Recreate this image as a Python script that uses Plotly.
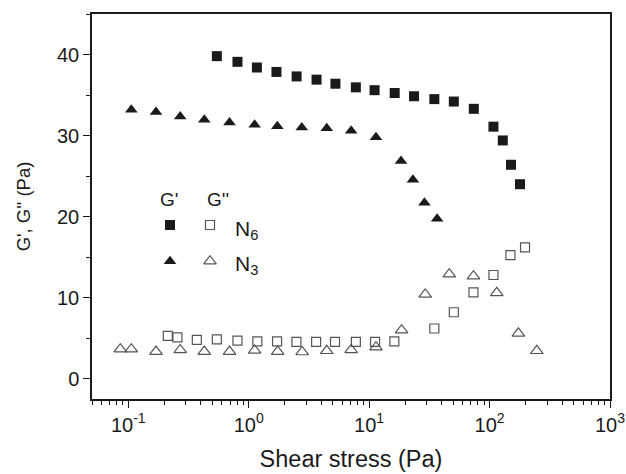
import plotly.graph_objects as go

# Storage (G') and loss (G'') moduli vs. applied shear stress, two samples
n6_gp_stress = [0.544, 0.807, 1.17, 1.70, 2.50, 3.66, 5.25, 7.76, 11.1, 16.3,
                23.6, 34.8, 50.5, 74.0, 107.7, 128.8, 150.7, 179.0]
n6_gp = [39.8, 39.1, 38.4, 37.85, 37.3, 36.9, 36.4, 35.95, 35.6, 35.25,
         34.85, 34.5, 34.2, 33.3, 31.1, 29.4, 26.4, 24.0]

n6_gpp_stress = [0.213, 0.256, 0.371, 0.544, 0.807, 1.18, 1.72, 2.49, 3.63, 5.21,
                 7.76, 11.2, 16.2, 34.8, 50.5, 73.5, 107.7, 149.0, 197.0]
n6_gpp = [5.3, 5.1, 4.8, 4.85, 4.7, 4.6, 4.6, 4.55, 4.55, 4.55,
          4.55, 4.55, 4.6, 6.2, 8.2, 10.65, 12.8, 15.25, 16.2]

n3_gp_stress = [0.106, 0.170, 0.270, 0.428, 0.693, 1.12, 1.73, 2.76, 4.45, 7.09,
                11.4, 18.4, 23.1, 28.8, 36.7]
n3_gp = [33.2, 32.9, 32.35, 31.95, 31.6, 31.35, 31.15, 31.0, 30.9, 30.6,
         29.8, 26.85, 24.55, 21.7, 19.75]

n3_gpp_stress = [0.0859, 0.106, 0.170, 0.270, 0.428, 0.693, 1.12, 1.74, 2.78, 4.45,
                 7.09, 11.4, 18.6, 29.2, 46.3, 73.5, 114.8, 173.4, 246.7]
n3_gpp = [3.65, 3.65, 3.35, 3.55, 3.35, 3.35, 3.5, 3.35, 3.3, 3.45,
          3.55, 3.9, 6.0, 10.4, 12.9, 12.65, 10.6, 5.6, 3.45]

x_tick_vals = [0.1, 1, 10, 100, 1000]
x_tick_text = ["10<sup>-1</sup>", "10<sup>0</sup>", "10<sup>1</sup>",
               "10<sup>2</sup>", "10<sup>3</sup>"]
y_tick_vals = [0, 10, 20, 30, 40]

x_label = "Shear stress (Pa)"
y_label = "G', G'' (Pa)"

FONT = "Arial, Liberation Sans, sans-serif"
INK = "#1a1a1a"
GREY = "#555555"

fig = go.Figure()

def add(x, y, symbol, size, color, line_color, line_w, xa="x", ya="y"):
    fig.add_trace(go.Scatter(
        x=x, y=y, mode="markers", showlegend=False, xaxis=xa, yaxis=ya,
        marker=dict(symbol=symbol, size=size, color=color,
                    line=dict(color=line_color, width=line_w)),
    ))

add(n6_gp_stress, n6_gp, "square", 10, INK, INK, 0)
add(n6_gpp_stress, n6_gpp, "square-open", 9, GREY, GREY, 1.2)
add(n3_gp_stress, n3_gp, "triangle-up", 11, INK, INK, 0)
add(n3_gpp_stress, n3_gpp, "triangle-up-open", 11, GREY, GREY, 1.2)

# Key: a two-column symbol table (G' filled, G'' open) drawn on an overlay
# axis pair spanning [0, 1] in both directions.
key_col = [0.1506, 0.2278]
key_row = [0.452, 0.358]
add([key_col[0]], [key_row[0]], "square", 10, INK, INK, 0, "x2", "y2")
add([key_col[1]], [key_row[0]], "square-open", 9, GREY, GREY, 1.2, "x2", "y2")
add([key_col[0]], [key_row[1]], "triangle-up", 11, INK, INK, 0, "x2", "y2")
add([key_col[1]], [key_row[1]], "triangle-up-open", 11, GREY, GREY, 1.2, "x2", "y2")

def label(x, y, text, size, xanchor="center"):
    return dict(x=x, y=y, xref="paper", yref="paper", text=text,
                showarrow=False, xanchor=xanchor, yanchor="middle",
                font=dict(family=FONT, color=INK, size=size))

annotations = [
    label(0.1486, 0.519, "G'", 19),
    label(0.243, 0.519, "G''", 19),
    label(0.272, 0.440, "N<sub>6</sub>", 21, "left"),
    label(0.272, 0.347, "N<sub>3</sub>", 21, "left"),
]

minor_x = [m * 10 ** e for e in (-2, -1, 0, 1, 2) for m in range(2, 10)
           if 0.05 <= m * 10 ** e < 1000]

fig.update_layout(
    width=626, height=474,
    margin=dict(l=92, r=16, t=14, b=75, autoexpand=False),
    paper_bgcolor="white", plot_bgcolor="white",
    font=dict(family=FONT, color=INK, size=20),
    annotations=annotations,
    xaxis=dict(
        type="log", range=[-1.301, 3], automargin=False,
        tickmode="array", tickvals=x_tick_vals, ticktext=x_tick_text,
        showgrid=False, zeroline=False,
        showline=True, linecolor=INK, linewidth=1.5, mirror=True,
        ticks="outside", ticklen=7, tickwidth=1.3, tickcolor=INK,
        tickfont=dict(family=FONT, size=20, color=INK),
        minor=dict(tickvals=minor_x, ticks="outside", ticklen=4,
                   tickwidth=1.1, tickcolor=INK, showgrid=False),
        title=dict(text=x_label, font=dict(family=FONT, size=23.5, color=INK),
                   standoff=16),
    ),
    yaxis=dict(
        range=[-2.5, 45], tickmode="array", tickvals=y_tick_vals,
        automargin=False,
        showgrid=False, zeroline=False,
        showline=True, linecolor=INK, linewidth=1.5, mirror=True,
        ticks="outside", ticklen=7, tickwidth=1.3, tickcolor=INK,
        tickfont=dict(family=FONT, size=20, color=INK),
        minor=dict(dtick=5, tick0=0, ticks="outside", ticklen=4,
                   tickwidth=1.1, tickcolor=INK, showgrid=False),
        title=dict(text=y_label, font=dict(family=FONT, size=18.5, color=INK),
                   standoff=22),
    ),
    xaxis2=dict(overlaying="x", range=[0, 1], visible=False, fixedrange=True),
    yaxis2=dict(overlaying="y", range=[0, 1], visible=False, fixedrange=True),
)

fig.write_html("out.html")
